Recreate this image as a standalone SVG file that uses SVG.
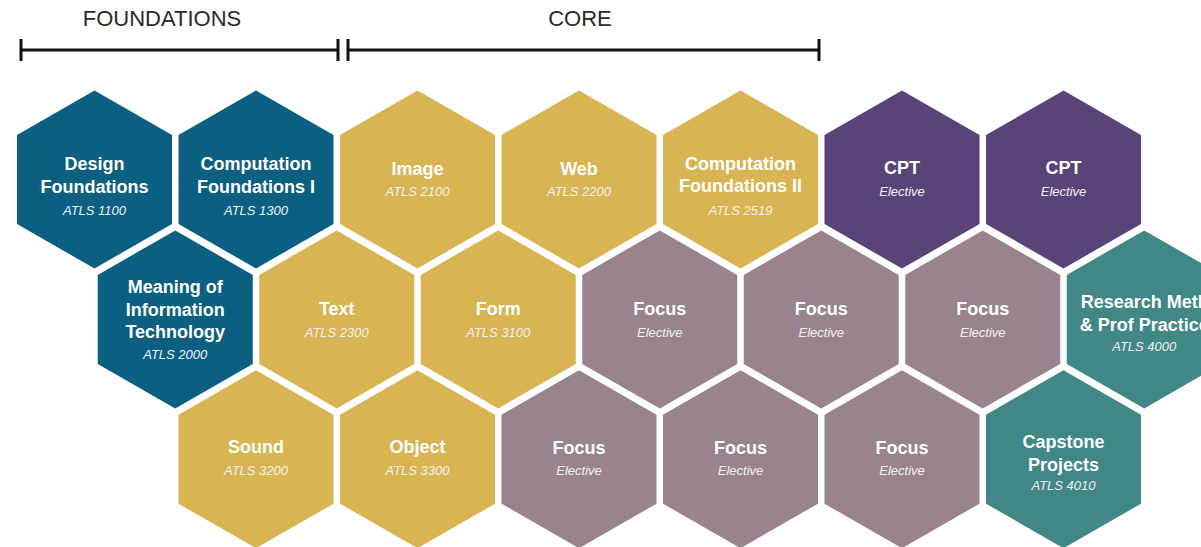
<svg xmlns="http://www.w3.org/2000/svg" xmlns:xlink="http://www.w3.org/1999/xlink" width="1201" height="547" viewBox="0 0 1201 547">
  <style>
    .found { fill: #0b5f80; }
    .core { fill: #d8b452; }
    .cpt { fill: #584478; }
    .focus { fill: #98838e; }
    .cap { fill: #418785; }
    .title { font-family: "Liberation Sans", Arial, sans-serif; font-size: 18px; font-weight: bold; fill: #ffffff; text-anchor: middle; }
    .code { font-family: "Liberation Sans", Arial, sans-serif; font-size: 13px; font-style: italic; fill: #f4f1f4; text-anchor: middle; }
    .phase { font-family: "Liberation Sans", Arial, sans-serif; font-size: 22px; fill: #2a2a2a; text-anchor: middle; }
    .range { stroke: #111111; stroke-width: 3; fill: none; }
  </style>
  <defs>
    <!-- pointy-top hexagon centred on the origin -->
    <polygon id="hex" points="0,-89 77.5,-44.5 77.5,44.5 0,89 -77.5,44.5 -77.5,-44.5"/>
  </defs>

  <rect width="1201" height="547" fill="#ffffff"/>

  <!-- programme phase ranges -->
  <g id="ranges">
    <text class="phase" x="162" y="26">FOUNDATIONS</text>
    <path class="range" d="M21,50 H338 M21,39 V61 M338,39 V61"/>
    <text class="phase" x="580" y="26">CORE</text>
    <path class="range" d="M348,50 H819 M348,39 V61 M819,39 V61"/>
  </g>

  <!-- connectors: none in this layout -->
  <g id="connectors"/>

  <!-- row 1 -->
  <g id="design-foundations" transform="translate(94.5,179.5)">
    <use xlink:href="#hex" class="found"/>
    <text class="title" y="-9.5">Design</text>
    <text class="title" y="13">Foundations</text>
    <text class="code" y="35.5">ATLS 1100</text>
  </g>
  <g id="computation-foundations-1" transform="translate(256,179.5)">
    <use xlink:href="#hex" class="found"/>
    <text class="title" y="-9.5">Computation</text>
    <text class="title" y="13">Foundations I</text>
    <text class="code" y="35.5">ATLS 1300</text>
  </g>
  <g id="image" transform="translate(417.5,179.5)">
    <use xlink:href="#hex" class="core"/>
    <text class="title" y="-4.5">Image</text>
    <text class="code" y="16.5">ATLS 2100</text>
  </g>
  <g id="web" transform="translate(579,179.5)">
    <use xlink:href="#hex" class="core"/>
    <text class="title" y="-4.5">Web</text>
    <text class="code" y="16.5">ATLS 2200</text>
  </g>
  <g id="computation-foundations-2" transform="translate(740.5,179.5)">
    <use xlink:href="#hex" class="core"/>
    <text class="title" y="-10">Computation</text>
    <text class="title" y="12.5">Foundations II</text>
    <text class="code" y="35.5">ATLS 2519</text>
  </g>
  <g id="cpt-1" transform="translate(902,179.5)">
    <use xlink:href="#hex" class="cpt"/>
    <text class="title" y="-5.5">CPT</text>
    <text class="code" y="16">Elective</text>
  </g>
  <g id="cpt-2" transform="translate(1063.5,179.5)">
    <use xlink:href="#hex" class="cpt"/>
    <text class="title" y="-5.5">CPT</text>
    <text class="code" y="16">Elective</text>
  </g>

  <!-- row 2 -->
  <g id="meaning-of-it" transform="translate(175.25,319.4)">
    <use xlink:href="#hex" class="found"/>
    <text class="title" y="-26.7">Meaning of</text>
    <text class="title" y="-3.4">Information</text>
    <text class="title" y="19">Technology</text>
    <text class="code" y="40">ATLS 2000</text>
  </g>
  <g id="text" transform="translate(336.75,319.4)">
    <use xlink:href="#hex" class="core"/>
    <text class="title" y="-4.4">Text</text>
    <text class="code" y="17.3">ATLS 2300</text>
  </g>
  <g id="form" transform="translate(498.25,319.4)">
    <use xlink:href="#hex" class="core"/>
    <text class="title" y="-4.4">Form</text>
    <text class="code" y="17.3">ATLS 3100</text>
  </g>
  <g id="focus-1" transform="translate(659.75,319.4)">
    <use xlink:href="#hex" class="focus"/>
    <text class="title" y="-4">Focus</text>
    <text class="code" y="17.3">Elective</text>
  </g>
  <g id="focus-2" transform="translate(821.25,319.4)">
    <use xlink:href="#hex" class="focus"/>
    <text class="title" y="-4">Focus</text>
    <text class="code" y="17.3">Elective</text>
  </g>
  <g id="focus-3" transform="translate(982.75,319.4)">
    <use xlink:href="#hex" class="focus"/>
    <text class="title" y="-4">Focus</text>
    <text class="code" y="17.3">Elective</text>
  </g>
  <g id="research-methods" transform="translate(1144.25,319.4)">
    <use xlink:href="#hex" class="cap"/>
    <text class="title" x="-63.5" y="-11" text-anchor="start" style="text-anchor:start">Research Methods</text>
    <text class="title" y="11.6">&amp; Prof Practice</text>
    <text class="code" y="31.6">ATLS 4000</text>
  </g>

  <!-- row 3 -->
  <g id="sound" transform="translate(256,459.2)">
    <use xlink:href="#hex" class="core"/>
    <text class="title" y="-6">Sound</text>
    <text class="code" y="16">ATLS 3200</text>
  </g>
  <g id="object" transform="translate(417.5,459.2)">
    <use xlink:href="#hex" class="core"/>
    <text class="title" y="-6">Object</text>
    <text class="code" y="16">ATLS 3300</text>
  </g>
  <g id="focus-4" transform="translate(579,459.2)">
    <use xlink:href="#hex" class="focus"/>
    <text class="title" y="-5">Focus</text>
    <text class="code" y="16">Elective</text>
  </g>
  <g id="focus-5" transform="translate(740.5,459.2)">
    <use xlink:href="#hex" class="focus"/>
    <text class="title" y="-5">Focus</text>
    <text class="code" y="16">Elective</text>
  </g>
  <g id="focus-6" transform="translate(902,459.2)">
    <use xlink:href="#hex" class="focus"/>
    <text class="title" y="-5">Focus</text>
    <text class="code" y="16">Elective</text>
  </g>
  <g id="capstone-projects" transform="translate(1063.5,459.2)">
    <use xlink:href="#hex" class="cap"/>
    <text class="title" y="-11.5">Capstone</text>
    <text class="title" y="11.5">Projects</text>
    <text class="code" y="31">ATLS 4010</text>
  </g>
</svg>
